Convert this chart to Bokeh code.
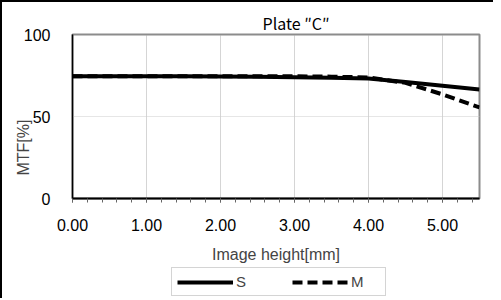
from bokeh.plotting import figure
from bokeh.layouts import column
from bokeh.models import (FixedTicker, NumeralTickFormatter, Legend, LegendItem, Range1d)
from bokeh.embed import file_html
from bokeh.resources import INLINE

# ---- data ----
x_mm = [0.0, 0.5, 1.0, 1.5, 2.0, 2.5, 3.0, 3.5, 4.0, 4.5, 5.0, 5.5]
mtf_s = [74.6, 74.6, 74.6, 74.5, 74.4, 74.2, 74.0, 73.7, 73.2, 71.0, 68.7, 66.4]
mtf_m = [74.6, 74.6, 74.6, 74.6, 74.6, 74.6, 74.5, 74.3, 73.8, 70.5, 63.5, 55.5]
x_ticks = [0, 1, 2, 3, 4, 5]
x_minor = [round(i * 0.2, 1) for i in range(0, 28)]
y_ticks = [0, 50, 100]
title_text = "Plate ″C″"
xlabel = "Image height[mm]"
ylabel = "MTF[%]"
series_names = ["S", "M"]

FONT = "Liberation Sans"
NB = "\u00a0"

p = figure(frame_width=405, frame_height=162, output_backend="svg", toolbar_location=None,
           x_range=Range1d(0, 5.5), y_range=Range1d(0, 100),
           min_border_left=70, min_border_right=16, min_border_top=32, min_border_bottom=70,
           styles={"border-left": "2px solid black", "border-top": "2px solid black"})
p.background_fill_color = "white"
p.border_fill_color = "white"
p.outline_line_color = "#8c8c8c"
p.outline_line_width = 2

p.line(x_mm, mtf_s, line_color="black", line_width=4)
p.line(x_mm, mtf_m, line_color="black", line_width=4, line_dash="10 5")

# title
p.title.text = title_text
p.title.align = "left"
p.title.offset = 190
p.title.standoff = 0
p.title.text_font = "Noto Sans CJK JP"
p.title.text_font_size = "16px"
p.title.text_font_style = "normal"
p.title.text_color = "black"

# x axis
xa = p.xaxis[0]
xa.ticker = FixedTicker(ticks=x_ticks, minor_ticks=x_minor)
xa.formatter = NumeralTickFormatter(format="0.00")
xa.axis_line_color = "black"
xa.axis_line_width = 2
xa.major_tick_in = 0
xa.major_tick_out = 4
xa.minor_tick_in = 0
xa.minor_tick_out = 4
xa.major_tick_line_color = "#666666"
xa.minor_tick_line_color = "#666666"
xa.major_label_text_font = FONT
xa.major_label_text_font_size = "16px"
xa.major_label_text_color = "black"
xa.major_label_standoff = 16
xa.axis_label = xlabel
xa.axis_label_text_font = FONT
xa.axis_label_text_font_style = "normal"
xa.axis_label_text_font_size = "16px"
xa.axis_label_standoff = 12

# y axis
ya = p.yaxis[0]
ya.ticker = FixedTicker(ticks=y_ticks)
ya.axis_line_color = "black"
ya.axis_line_width = 1.5
ya.major_tick_in = 0
ya.major_tick_out = 0
ya.minor_tick_line_color = None
ya.major_label_text_font = FONT
ya.major_label_text_font_size = "16px"
ya.major_label_text_color = "black"
ya.major_label_standoff = 22
ya.axis_label = ylabel + NB * 14
ya.axis_label_text_font = FONT
ya.axis_label_text_font_style = "normal"
ya.axis_label_text_font_size = "16px"
ya.axis_label_standoff = -11

# grids
p.xgrid[0].grid_line_color = "#aaaaaa"
p.xgrid[0].grid_line_dash = "1 1"
p.xgrid[0].grid_line_width = 1
p.ygrid[0].grid_line_color = "#cccccc"
p.ygrid[0].grid_line_dash = "1 1"
p.ygrid[0].grid_line_width = 1

# legend strip below the chart (same series, drawn off-range so only the legend shows)
pl = figure(width=491, height=32, output_backend="svg", toolbar_location=None,
            x_range=Range1d(0, 5.5), y_range=Range1d(200, 300),
            x_axis_location=None, y_axis_location=None,
            min_border_left=0, min_border_right=0, min_border_top=0, min_border_bottom=0,
            styles={"border-left": "2px solid black"})
pl.outline_line_color = None
pl.background_fill_color = "white"
pl.border_fill_color = "white"
pl.xgrid.visible = False
pl.ygrid.visible = False
l_s = pl.line(x_mm, mtf_s, line_color="black", line_width=4)
l_m = pl.line(x_mm, mtf_m, line_color="black", line_width=4, line_dash="10 5")

legend = Legend(items=[LegendItem(label=series_names[0], renderers=[l_s]),
                       LegendItem(label=series_names[1] + NB * 4, renderers=[l_m])],
                orientation="horizontal", location=(99, 2),
                glyph_width=56, glyph_height=16, label_standoff=3, spacing=36,
                padding=5, margin=0,
                label_text_font=FONT, label_text_font_size="15px",
                border_line_color="#aaaaaa", border_line_width=1,
                background_fill_alpha=1)
pl.add_layout(legend, "center")

layout = column(p, pl, spacing=0)
open("out.html", "w").write(file_html(layout, INLINE))
